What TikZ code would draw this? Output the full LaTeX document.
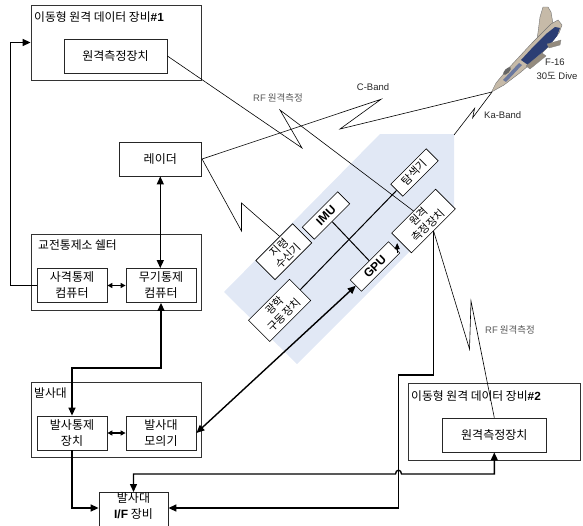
\documentclass[tikz,border=0pt]{standalone}
\usepackage{fontspec}
\setmainfont{Noto Sans CJK KR}
\newfontfamily\lat{Liberation Sans}
\usetikzlibrary{arrows.meta,calc}
\definecolor{bandblue}{RGB}{225,232,245}
\definecolor{jettan}{RGB}{198,186,168}
\definecolor{jetblue}{RGB}{44,62,116}
\begin{document}
\begin{tikzpicture}[x=1pt,y=-1pt,
  every node/.style={font=\fontsize{12}{16}\selectfont},
  group/.style={draw=black!80,line width=0.8pt,inner sep=0pt},
  grouptitle/.style={anchor=west,inner sep=0pt,font=\fontsize{11.8}{13}\selectfont},
  unitbox/.style={draw=black!85,line width=0.8pt,fill=white,align=center,inner sep=0pt,
    minimum width=70pt,minimum height=34pt,font=\fontsize{12}{16}\selectfont},
  tilted/.style={draw=black,line width=0.6pt,fill=white,rotate=45,align=center,inner sep=0pt,
    font=\fontsize{11}{13}\selectfont},
  tiltedlat/.style={tilted,font=\lat\bfseries\fontsize{12}{13}\selectfont},
  wire/.style={line width=1.4pt},
  midwire/.style={line width=1pt},
  rfline/.style={line width=0.6pt},
  bigtip/.style={-{Triangle[length=8pt,width=7pt]}},
  twoway/.style={{Triangle[length=8pt,width=7pt]}-{Triangle[length=8pt,width=7pt]}},
  smalltwoway/.style={{Triangle[length=5pt,width=5pt]}-{Triangle[length=5pt,width=5pt]}},
  bandlabel/.style={font=\lat\fontsize{9.5}{11}\selectfont,text=black!85,inner sep=0pt},
  rflabel/.style={font=\fontsize{9.5}{11}\selectfont,text=black!65,inner sep=0pt,anchor=west},
]
\useasboundingbox (0,0) rectangle (583,525);
\clip (0,0) rectangle (583,525);

% seeker band of the missile
\fill[bandblue] (224,292) -- (380,134) -- (454,134) -- (454,207) -- (297,364) -- cycle;
\coordinate (bandtip) at (454,135);

% mobile telemetry station 1
\node[group,minimum width=170.5pt,minimum height=75pt] (g1) at (116.25,42.5) {};
\node[grouptitle] at (34,17) {이동형 원격 데이터 장비{\lat\bfseries\#1}};
\node[unitbox,minimum width=103pt] (tm1) at (115.5,56) {원격측정장치};

% radar
\node[unitbox,minimum width=82.7pt] (radar) at (160.3,159) {레이더};

% engagement control shelter
\node[group,minimum width=170.5pt,minimum height=76pt] (g2) at (116.25,272) {};
\node[grouptitle] at (38,245) {교전통제소 쉘터};
\node[unitbox] (fcc) at (72,285.5) {사격통제\\컴퓨터};
\node[unitbox] (wcc) at (161,285.5) {무기통제\\컴퓨터};

% launcher
\node[group,minimum width=170.5pt,minimum height=75pt] (g3) at (116.25,419.5) {};
\node[grouptitle] at (34,393) {발사대};
\node[unitbox] (lcu) at (72,433) {발사통제\\장치};
\node[unitbox] (lsim) at (161,433) {발사대\\모의기};

% launcher interface unit
\node[draw=black!85,line width=0.8pt,minimum width=69pt,minimum height=48pt,anchor=north,inner sep=0pt] (ifu) at (133.5,492) {};
\node[align=center,inner sep=0pt] (ifutext) at (133.5,506) {발사대\\{\lat\bfseries I/F} 장비};

% mobile telemetry station 2
\node[group,minimum width=172pt,minimum height=77pt] (g4) at (494,421.5) {};
\node[grouptitle] at (411,396) {이동형 원격 데이터 장비{\lat\bfseries\#2}};
\node[unitbox,minimum width=103.4pt] (tm2) at (494.3,435) {원격측정장치};

% missile subsystems
\node[tilted,minimum width=50pt,minimum height=17pt] (seek) at (414.5,172.5) {탐색기};
\node[tilted,minimum width=62pt,minimum height=28pt] (tm0) at (423.5,221) {원격\\측정장치};
\node[tiltedlat,minimum width=50pt,minimum height=17pt] (imu) at (326,215.5) {IMU};
\node[tiltedlat,minimum width=54pt,minimum height=16pt] (gpu) at (375,266.5) {GPU};
\node[tilted,minimum width=52pt,minimum height=27pt] (cmd) at (283.8,251.7) {지령\\수신기};
\node[tilted,minimum width=58pt,minimum height=30pt] (opt) at (279.6,310.4) {광학\\구동장치};

% target aircraft in a dive
\coordinate (nose) at (492,92);
\fill[jettan,draw=black!55,line width=0.4pt] (537,40) -- (540,17) -- (543,7) -- (548,7) -- (551,12) -- (554,30) -- (547,35) -- cycle;
\fill[jettan,draw=black!55,line width=0.4pt] (491.5,92) -- (496,83) -- (506,71) -- (519,57) -- (532,43) -- (543,32) -- (551,24) -- (558,20) -- (562,25) -- (559,33) -- (549,46) -- (536,59) -- (521,72) -- (504,85) -- cycle;
\fill[jetblue] (521,60) -- (534,46) -- (546,34) -- (555,27) -- (560,28) -- (557,36) -- (548,47) -- (537,57) -- (528,65) -- cycle;
\fill[jetblue!70] (503,80) -- (519,63) -- (522,65) -- (506,82) -- cycle;
\fill[jettan!75!black,draw=black!50,line width=0.3pt] (526,66) -- (542,53) -- (546,56) -- (530,69) -- cycle;
\fill[jettan!75!black,draw=black!50,line width=0.3pt] (547,44) -- (561,40) -- (560,45) -- (549,48) -- cycle;
\fill[black!60] (507,71) ellipse [x radius=5pt,y radius=2.2pt,rotate=45];
\node[bandlabel] (f16) at (555,62) {F-16};
\node[bandlabel] (dive) at (557,75.5) {30{\fontspec{Noto Sans CJK KR}도} Dive};

% command and data links
\draw[wire,twoway] (radar.south) -- (radar.south |- wcc.north);
\draw[wire,smalltwoway] (fcc.east) -- (wcc.west);
\draw[wire,bigtip] (fcc.west) -- ++(-26,0) |- (g1.west);
\draw[wire,twoway] (wcc.south) -- ++(0,65) -| (lcu.north);
\draw[wire,smalltwoway] (lcu.east) -- (lsim.west);
\draw[wire,twoway] (lsim.east) -- (gpu.west);
\draw[wire,bigtip] (lcu.south) |- ([yshift=-16pt]ifu.north west);
\draw[wire,twoway] (ifu.north) -- (ifu.north |- 0,474) -- (395.5,474)
  .. controls (395.5,469) and (401.5,469) .. (401.5,474) -- (tm2.south |- 0,474) -- (tm2.south);
\draw[wire,bigtip] (tm0.south) -- (tm0.south |- 0,375) -- (398.5,375) -- (398.5,508) -- ([yshift=-16pt]ifu.north east);

% links inside the missile
\draw[midwire] (opt.east) -- (seek.west);
\draw[midwire] (imu.south) -- (gpu.north);
\draw[line width=0.6pt,-{Triangle[length=6pt,width=5pt]}] ([xshift=-3pt]gpu.south east) -- ++(0,-10);

% radio links
\draw[rfline] (radar.east) -- (241.5,231) -- (241.5,203) -- ($(cmd.north)!0.3!(cmd.north east)$);
\draw[rfline] (radar.east) -- (381,99.3) -- (340,129) -- (nose);
\node[bandlabel] (cband) at (373,87.5) {C-Band};
\draw[rfline] (bandtip) -- (474.6,108.4) -- (472.6,117.8) -- (nose);
\node[bandlabel,anchor=west] (kaband) at (484,115) {Ka-Band};
\draw[rfline] (tm1.east) -- (302,148) -- (280,110) -- (tm0.north);
\node[rflabel] (rf1) at (253,98) {{\lat RF} 원격측정};
\draw[rfline] (tm0.south) -- (469.5,349) -- (471,301) -- (tm2.north);
\node[rflabel] (rf2) at (485,330) {{\lat RF} 원격측정};
\end{tikzpicture}
\end{document}
